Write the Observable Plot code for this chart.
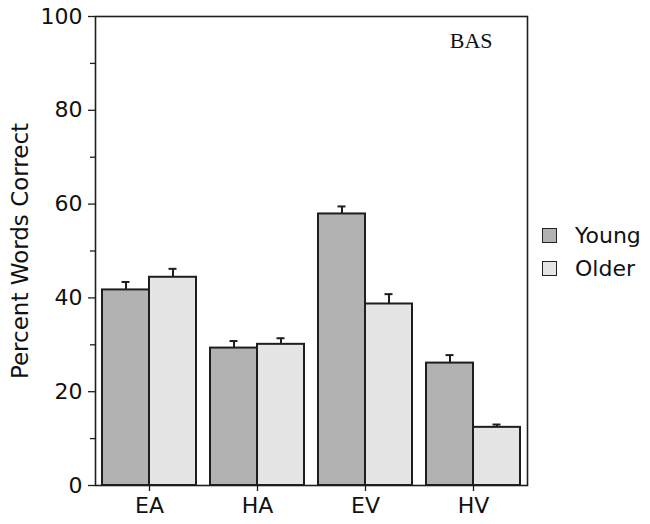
<!DOCTYPE html>
<html>
<head>
<meta charset="utf-8">
<script src="https://cdn.jsdelivr.net/npm/d3@7"></script>
<script src="https://cdn.jsdelivr.net/npm/@observablehq/plot@0.6"></script>
<style>
  html, body { margin: 0; padding: 0; background: #fff; }
  #wrap { position: relative; width: 650px; height: 524px; font-family: "DejaVu Sans", Verdana, sans-serif; }
  #legend { position: absolute; left: 542px; top: 219px; font-size: 22px; color: #111; }
  .item { display: flex; align-items: center; height: 33px; }
  .sw { width: 13px; height: 13px; border: 1.5px solid #222; margin-right: 18px; box-sizing: content-box; }
</style>
</head>
<body>
<div id="wrap"><div id="legend"></div></div>
<script>
const groups = ["EA", "HA", "EV", "HV"];
const series = ["Young", "Older"];
const young = [41.7, 29.3, 57.9, 26.1];
const older = [44.4, 30.1, 38.7, 12.4];
const youngErr = [1.7, 1.5, 1.6, 1.7];
const olderErr = [1.8, 1.3, 2.1, 0.6];
const yTicks = [0, 20, 40, 60, 80, 100];
const yMinor = [10, 30, 50, 70, 90];
const colors = {Young: "#b2b2b2", Older: "#e5e5e5"};
const panelLabel = "BAS";
const yLabel = "Percent Words Correct";

const youngRows = groups.map((g, i) => ({group: g, series: "Young", value: young[i], se: youngErr[i]}));
const olderRows = groups.map((g, i) => ({group: g, series: "Older", value: older[i], se: olderErr[i]}));

const W = 650, H = 524, mL = 95, mR = 123, mT = 16, mB = 39;
const pIn = 14 / 108, pOut = 7 / 108;
const step = (W - mL - mR) / (groups.length - pIn + 2 * pOut);
const bw = step * (1 - pIn);
const half = bw / 2;
const cap = 4;

const ink = "#1e1e1e";
function seriesMarks(rows, s, left) {
  return [
    Plot.barY(rows, {x: "group", y: "value", fill: colors[s], stroke: ink, strokeWidth: 2,
      insetLeft: left ? 0 : half, insetRight: left ? half : 0}),
    Plot.ruleX(rows, {x: "group", y1: "value", y2: d => d.value + d.se, stroke: ink, strokeWidth: 2,
      dx: left ? -half / 2 : half / 2}),
    Plot.tickY(rows, {x: "group", y: d => d.value + d.se, stroke: ink, strokeWidth: 2,
      insetLeft: left ? half / 2 - cap : 1.5 * half - cap,
      insetRight: left ? 1.5 * half - cap : half / 2 - cap})
  ];
}

const chart = Plot.plot({
  width: W, height: H,
  marginLeft: mL, marginRight: mR, marginTop: mT, marginBottom: mB,
  style: {fontFamily: "DejaVu Sans, Verdana, sans-serif", color: "#111", background: "#fff"},
  x: {domain: groups, paddingInner: pIn, paddingOuter: pOut, label: null},
  y: {domain: [0, 100], label: null},
  marks: [
    ...seriesMarks(youngRows, "Young", true),
    ...seriesMarks(olderRows, "Older", false),
    Plot.frame({stroke: ink, strokeWidth: 1.6}),
    Plot.axisY({ticks: yTicks, tickSize: 7, tickPadding: 6, fontSize: 22, stroke: ink, strokeWidth: 1.3, label: null}),
    Plot.axisY({ticks: yMinor, tickSize: 5, tickFormat: () => "", stroke: ink, strokeWidth: 1.3, label: null}),
    Plot.axisX({tickSize: 6, tickPadding: 6, fontSize: 22, stroke: ink, strokeWidth: 1.3, label: null}),
    Plot.text([yLabel], {text: d => d, frameAnchor: "left", textAnchor: "middle", rotate: -90, dx: -75, fontSize: 23, fill: "#111"}),
    Plot.text([panelLabel], {text: d => d, frameAnchor: "top-right", dx: -35, dy: 16, fontSize: 22,
      fontFamily: "Liberation Serif, Times New Roman, serif", fill: "#111"})
  ]
});
document.getElementById("wrap").prepend(chart);

const legend = document.getElementById("legend");
for (const s of series) {
  const item = document.createElement("div");
  item.className = "item";
  const sw = document.createElement("span");
  sw.className = "sw";
  sw.style.background = colors[s];
  const t = document.createElement("span");
  t.textContent = s;
  item.append(sw, t);
  legend.append(item);
}
</script>
</body>
</html>
